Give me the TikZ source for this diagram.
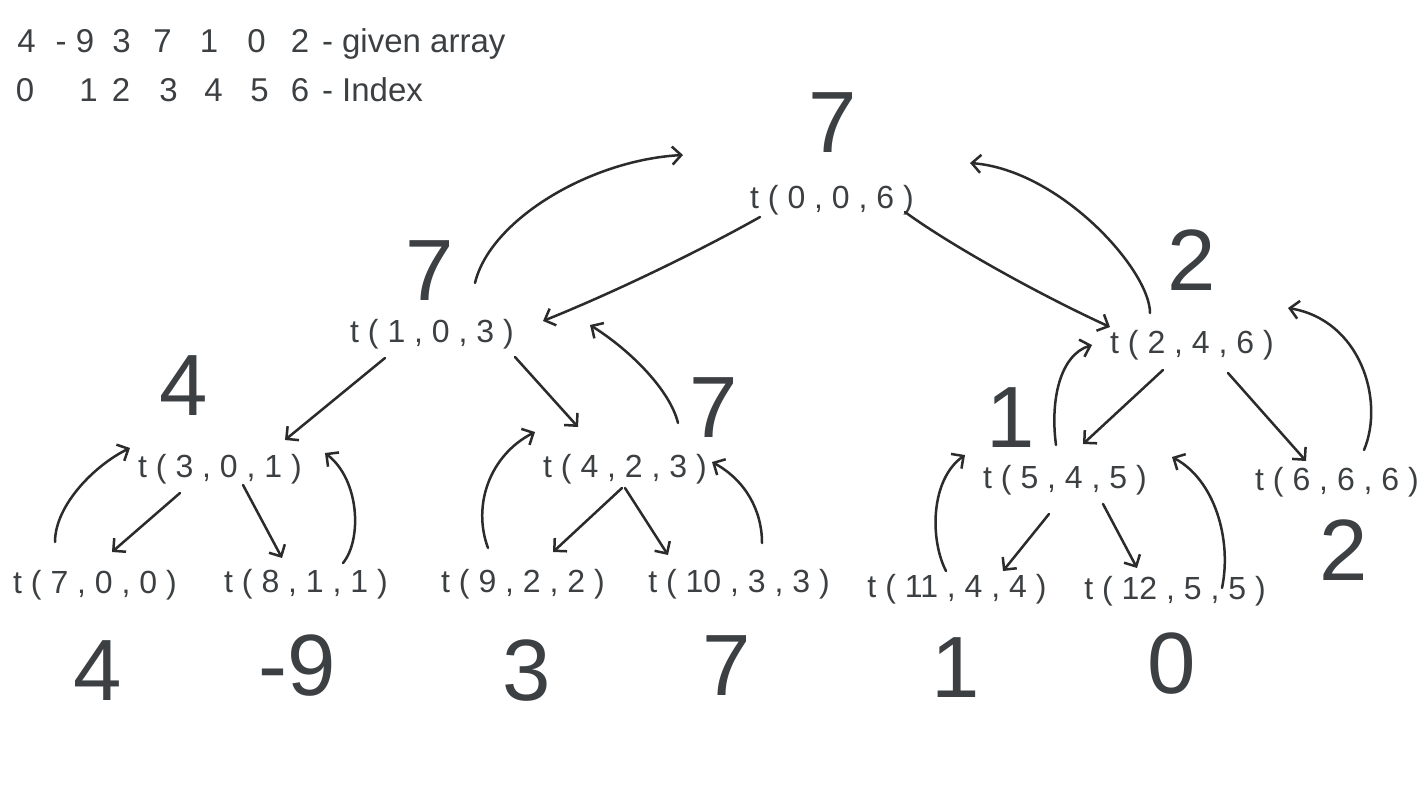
\documentclass[tikz,border=0pt]{standalone}
\usepackage{fontspec}
\setmainfont{Liberation Sans}
\usetikzlibrary{arrows.meta}
\definecolor{ink}{HTML}{3C4043}
\definecolor{pen}{HTML}{2B2B2B}
\begin{document}
\begin{tikzpicture}[x=1pt,y=-1pt,
  call/.style={inner sep=0pt, outer sep=0pt, anchor=base, text=ink, font=\fontsize{32}{32}\selectfont},
  big/.style={inner sep=0pt, outer sep=0pt, anchor=base, text=ink, font=\fontsize{87}{87}\selectfont},
  note/.style={inner sep=0pt, outer sep=0pt, anchor=base, text=ink, font=\fontsize{33}{33}\selectfont},
  arr/.style={draw=pen, line width=2.5pt, line cap=round, line join=round,
              -{Straight Barb[length=9pt,width=18pt]}}]
\useasboundingbox[fill=white] (0,0) rectangle (1422,800);

% array and index rows
\foreach \x/\s [count=\i] in {26.5/4, 61/-, 85/9, 121.5/3, 162.5/7, 209/1, 256.5/0, 300/2}
  \node[note] (a\i) at (\x,53) {\s};
\node[note, anchor=base west] (alabel) at (322,53) {- given array};
\foreach \x/\s [count=\i] in {25/0, 88.5/1, 121/2, 168.5/3, 213.5/4, 259.5/5, 300/6}
  \node[note] (b\i) at (\x,102) {\s};
\node[note, anchor=base west] (blabel) at (322,102) {- Index};

% recursive calls t(node, lo, hi)
\node[call] (t06)   at (832,208)  {t ( 0 , 0 , 6 )};
\node[call] (t103)  at (432,342)  {t ( 1 , 0 , 3 )};
\node[call] (t246)  at (1192,353) {t ( 2 , 4 , 6 )};
\node[call] (t301)  at (220,477)  {t ( 3 , 0 , 1 )};
\node[call] (t423)  at (625,477)  {t ( 4 , 2 , 3 )};
\node[call] (t545)  at (1065,488) {t ( 5 , 4 , 5 )};
\node[call] (t666)  at (1337,490) {t ( 6 , 6 , 6 )};
\node[call] (t700)  at (95,593)   {t ( 7 , 0 , 0 )};
\node[call] (t811)  at (306,592)  {t ( 8 , 1 , 1 )};
\node[call] (t922)  at (523,592)  {t ( 9 , 2 , 2 )};
\node[call] (t1033) at (739,592)  {t ( 10 , 3 , 3 )};
\node[call] (t1144) at (957,597)  {t ( 11 , 4 , 4 )};
\node[call] (t1255) at (1175,599) {t ( 12 , 5 , 5 )};

% values returned by the calls
\node[big] (v06)  at (833,152)  {7};
\node[big] (v103) at (430,300)  {7};
\node[big] (v246) at (1192,290) {2};
\node[big] (v301) at (184,415)  {4};
\node[big] (v423) at (714,437)  {7};
\node[big] (v545) at (1011,447) {1};
\node[big] (v666) at (1344,580) {2};

% leaf values
\node[big] (l0) at (98,700)   {4};
\node[big] (l1) at (297,695)  {-9};
\node[big] (l2) at (527,700)  {3};
\node[big] (l3) at (727,695)  {7};
\node[big] (l4) at (956,697)  {1};
\node[big] (l5) at (1172,693) {0};

% calls going down
\draw[arr] ([shift={(-72,9)}]t06.base) .. controls +(-55,31) and +(77,-31) .. ([shift={(111,-21)}]t103.base);
\draw[arr] ([shift={(73,4)}]t06.base) .. controls +(45,33) and +(-70,-32) .. ([shift={(-82,-26)}]t246.base);
\draw[arr] ([shift={(-47,16)}]t103.base) -- ([shift={(65,-37)}]t301.base);
\draw[arr] ([shift={(83,15)}]t103.base) -- ([shift={(-47,-50)}]t423.base);
\draw[arr] ([shift={(-40,16)}]t301.base) -- ([shift={(17,-41)}]t700.base);
\draw[arr] ([shift={(23,8)}]t301.base) -- ([shift={(-24,-34)}]t811.base);
\draw[arr] ([shift={(-3,11)}]t423.base) -- ([shift={(30,-40)}]t922.base);
\draw[arr] ([shift={(0,11)}]t423.base) -- ([shift={(-71,-37)}]t1033.base);
\draw[arr] ([shift={(-29,17)}]t246.base) -- ([shift={(18,-44)}]t545.base);
\draw[arr] ([shift={(36,20)}]t246.base) -- ([shift={(-31,-29)}]t666.base);
\draw[arr] ([shift={(-16,26)}]t545.base) -- ([shift={(46,-26)}]t1144.base);
\draw[arr] ([shift={(38,16)}]t545.base) -- ([shift={(-38,-31)}]t1255.base);

% results going back up
\draw[arr] ([shift={(43,-59)}]t103.base) .. controls +(15,-63) and +(-93,5) .. ([shift={(-149,-53)}]t06.base);
\draw[arr] ([shift={(-42,-40)}]t246.base) .. controls +(0,-43) and +(90,7) .. ([shift={(138,-45)}]t06.base);
\draw[arr] ([shift={(53,-54)}]t423.base) .. controls +(-8,-33) and +(40,25) .. ([shift={(158,-17)}]t103.base);
\draw[arr] ([shift={(-40,-51)}]t700.base) .. controls +(0,-37) and +(-35,17) .. ([shift={(-90,-29)}]t301.base);
\draw[arr] ([shift={(37,-29)}]t811.base) .. controls +(19,-23) and +(35,27) .. ([shift={(105,-24)}]t301.base);
\draw[arr] ([shift={(-35,-44)}]t922.base) .. controls +(-16,-43) and +(-45,23) .. ([shift={(-90,-45)}]t423.base);
\draw[arr] ([shift={(23,-49)}]t1033.base) .. controls +(0,-33) and +(33,18) .. ([shift={(87,-15)}]t423.base);
\draw[arr] ([shift={(-9,-43)}]t545.base) .. controls +(-6,-45) and +(-32,10) .. ([shift={(-100,-8)}]t246.base);
\draw[arr] ([shift={(27,-40)}]t666.base) .. controls +(21,-50) and +(72,12) .. ([shift={(96,-45)}]t246.base);
\draw[arr] ([shift={(-11,-26)}]t1144.base) .. controls +(-16,-31) and +(-35,25) .. ([shift={(-100,-33)}]t545.base);
\draw[arr] ([shift={(47,-11)}]t1255.base) .. controls +(10,-48) and +(43,23) .. ([shift={(107,-31)}]t545.base);
\end{tikzpicture}
\end{document}
